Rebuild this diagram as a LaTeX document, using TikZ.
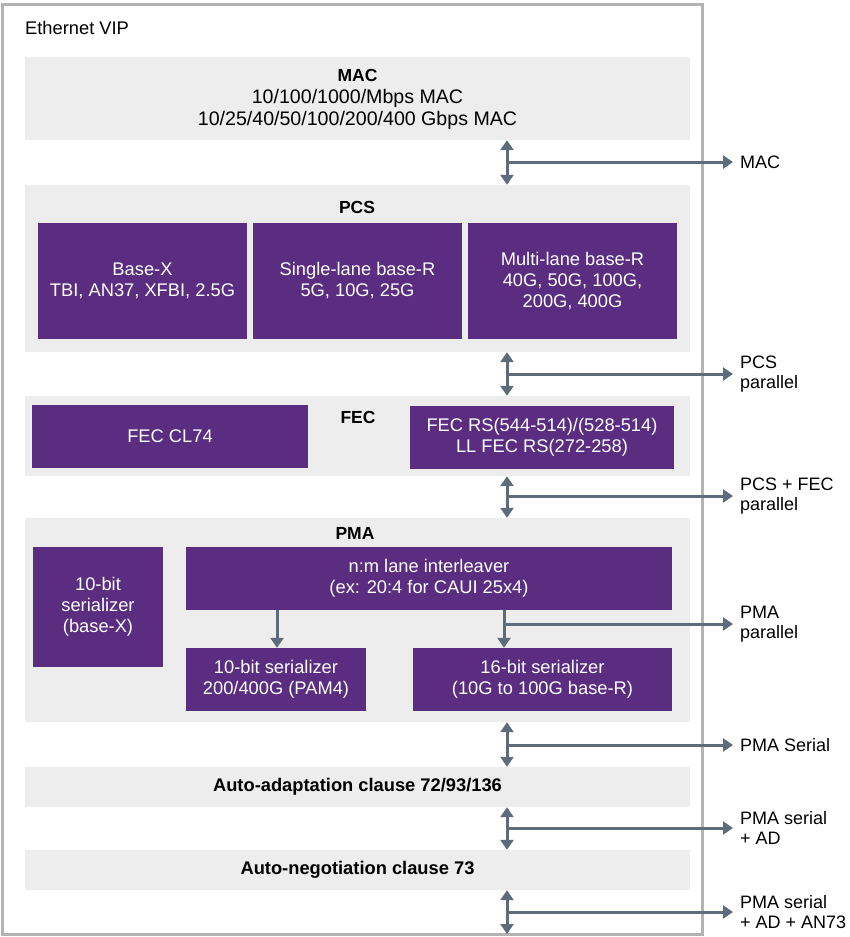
\documentclass[tikz,border=0pt]{standalone}
\usepackage{fontspec}
\setmainfont{Liberation Sans}
\usetikzlibrary{arrows.meta,calc}
\definecolor{vpurple}{HTML}{5A2D81}
\definecolor{vband}{HTML}{EDEDED}
\definecolor{vframe}{HTML}{B3B3B3}
\definecolor{varrow}{HTML}{5E6B7B}
\begin{document}
\begin{tikzpicture}[x=1pt,y=-1pt,
  band/.style={fill=vband, draw=none, inner sep=0pt, minimum width=665pt},
  pbox/.style={fill=vpurple, draw=none, text=white, align=center,
    font=\fontsize{18.3}{21}\selectfont, inner sep=0pt},
  ttl/.style={font=\fontsize{17.5}{21}\bfseries, align=center, inner sep=0pt},
  wttl/.style={font=\fontsize{18.3}{21}\bfseries, align=center, inner sep=0pt},
  lbl/.style={font=\fontsize{18}{20}\selectfont, align=left, anchor=west,
    inner xsep=7pt, inner ysep=0pt},
  link/.style={draw=varrow, line width=3pt, -{Triangle[length=10pt,width=13pt]}},
  dlink/.style={draw=varrow, line width=3pt,
    {Triangle[length=10pt,width=13pt]}-{Triangle[length=10pt,width=13pt]}},
]
\useasboundingbox (0,0) rectangle (850,937);
% outer frame
\draw[vframe, line width=3pt] (2.5,4) rectangle (702,934.5);
\node[anchor=base west, inner sep=0pt, font=\fontsize{18.3}{21}\selectfont] (vip) at (25,34) {Ethernet VIP};

% bands
\node[band, minimum height=83pt]  (mac) at (357.5,98.5) {};
\node[band, minimum height=167pt] (pcs) at (357.5,268.5) {};
\node[band, minimum height=80pt]  (fec) at (357.5,436) {};
\node[band, minimum height=204pt] (pma) at (357.5,620) {};
\node[band, minimum height=40pt]  (aa)  at (357.5,787) {};
\node[band, minimum height=40pt]  (an)  at (357.5,870) {};

% band texts
\node[align=center, inner sep=0pt, font=\fontsize{19.6}{22}\selectfont] (mactxt) at (357.5,99.5)
  {{\fontsize{17.5}{22}\bfseries MAC}\\10/100/1000/Mbps MAC\\10/25/40/50/100/200/400 Gbps MAC};
\node[ttl] (pcsttl) at (357,207) {PCS};
\node[ttl] (fecttl) at (358,417) {FEC};
\node[ttl] (pmattl) at (355,533) {PMA};
\node[wttl] (aatxt) at (357.5,787) {Auto-adaptation clause 72/93/136};
\node[wttl] (antxt) at (357.5,870) {Auto-negotiation clause 73};

% PCS boxes
\node[pbox, minimum width=209pt, minimum height=116pt] (basex) at (142.5,281) {Base-X\\TBI, AN37, XFBI, 2.5G};
\node[pbox, minimum width=209pt, minimum height=116pt] (single) at (357.5,281) {Single-lane base-R\\5G, 10G, 25G};
\node[pbox, minimum width=209pt, minimum height=116pt] (multi) at (572.5,281) {Multi-lane base-R\\40G, 50G, 100G,\\200G, 400G};

% FEC boxes
\node[pbox, minimum width=276pt, minimum height=63pt] (cl74) at (170,436.5) {FEC CL74};
\node[pbox, minimum width=264pt, minimum height=63pt] (rs) at (542,437) {FEC RS(544-514)/(528-514)\\LL FEC RS(272-258)};

% PMA boxes
\node[pbox, minimum width=130pt, minimum height=120pt] (ser10x) at (98,607) {10-bit\\serializer\\(base-X)};
\node[pbox, minimum width=486pt, minimum height=63pt] (ilv) at (429,578.5) {n:m lane interleaver\\(ex: 20:4 for CAUI 25x4)};
\node[pbox, minimum width=180pt, minimum height=63pt] (pam4) at (276,679.5) {10-bit serializer\\200/400G (PAM4)};
\node[pbox, minimum width=259pt, minimum height=63pt] (ser16) at (542.5,679.5) {16-bit serializer\\(10G to 100G base-R)};

% axes for connectors
\coordinate (ax) at (507,0);
\coordinate (pamx) at (277,0);
\coordinate (s16x) at (504,0);
\coordinate (bottom) at (507,934);

% right labels
\node[lbl] (lmac) at (733,162) {MAC};
\node[lbl] (lpcs) at (733,374) {PCS\\parallel};
\node[lbl] (lfec) at (733,496) {PCS + FEC\\parallel};
\node[lbl] (lpma) at (733,624) {PMA\\parallel};
\node[lbl] (lser) at (733,745) {PMA Serial};
\node[lbl] (lad)  at (733,828) {PMA serial\\+ AD};
\node[lbl] (lan)  at (733,912) {PMA serial\\+ AD + AN73};

% vertical double arrows and taps
\draw[dlink] (mac.south -| ax) -- (pcs.north -| ax);
\draw[link] (ax |- lmac.west) -- (lmac.west);
\draw[dlink] (pcs.south -| ax) -- (fec.north -| ax);
\draw[link] (ax |- lpcs.west) -- (lpcs.west);
\draw[dlink] (fec.south -| ax) -- (pma.north -| ax);
\draw[link] (ax |- lfec.west) -- (lfec.west);
\draw[dlink] (pma.south -| ax) -- (aa.north -| ax);
\draw[link] (ax |- lser.west) -- (lser.west);
\draw[dlink] (aa.south -| ax) -- (an.north -| ax);
\draw[link] (ax |- lad.west) -- (lad.west);
\draw[dlink] (an.south -| ax) -- (bottom);
\draw[link] (ax |- lan.west) -- (lan.west);

% PMA internal
\draw[link] (ilv.south -| pamx) -- (pam4.north -| pamx);
\draw[link] (ilv.south -| s16x) -- (ser16.north -| s16x);
\draw[link] (s16x |- lpma.west) -- (lpma.west);
\end{tikzpicture}
\end{document}
